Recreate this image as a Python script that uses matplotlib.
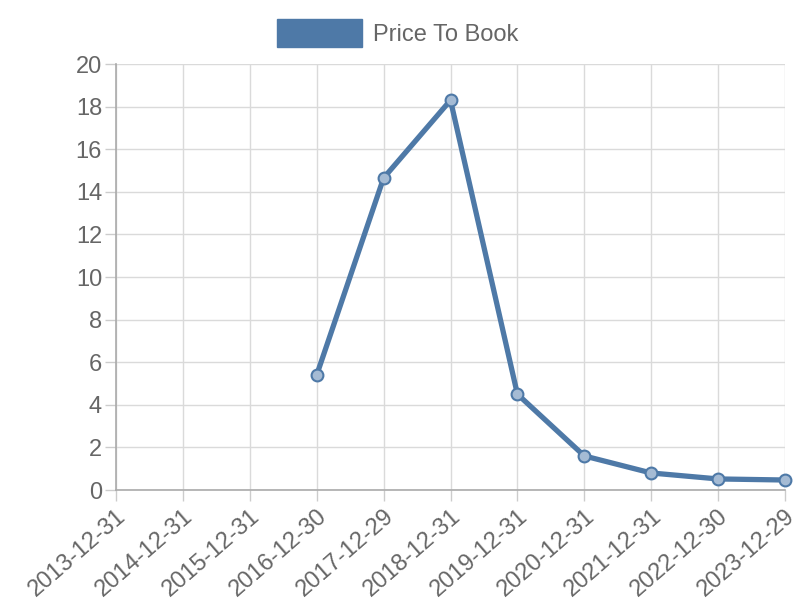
import matplotlib.pyplot as plt
from matplotlib.patches import Patch
import numpy as np

# Chart data
dates = ["2013-12-31", "2014-12-31", "2015-12-31", "2016-12-30", "2017-12-29",
         "2018-12-31", "2019-12-31", "2020-12-31", "2021-12-31", "2022-12-30",
         "2023-12-29"]
price_to_book = [np.nan, np.nan, np.nan, 5.4, 14.65, 18.3, 4.5, 1.6, 0.8, 0.52, 0.47]
y_ticks = list(range(0, 21, 2))

line_color = "#4e79a7"
text_color = "#666666"

plt.rcParams['font.family'] = ['Liberation Sans', 'DejaVu Sans']

fig = plt.figure(figsize=(8, 6), dpi=100)
ax = fig.add_axes([0.145, 0.1833, 0.83625, 0.71])

x = np.arange(len(dates))
ax.plot(x, price_to_book, color=line_color, linewidth=3.8, zorder=3, clip_on=False)
ax.plot(x, price_to_book, linestyle="none", marker="o", markersize=8.5,
        markerfacecolor="#a5bbd4", markeredgecolor=line_color, markeredgewidth=1.5,
        zorder=4, clip_on=False)

ax.set_xlim(0, len(dates) - 1)
ax.set_ylim(0, 20)
ax.set_xticks(x)
ax.set_xticklabels(dates, rotation=41, ha="right", rotation_mode="anchor")
ax.set_yticks(y_ticks)

ax.grid(True, color="#dadada", linewidth=1)
ax.set_axisbelow(True)
for side in ["top", "right"]:
    ax.spines[side].set_visible(False)
for side in ["left", "bottom"]:
    ax.spines[side].set_color("#aaaaaa")
    ax.spines[side].set_linewidth(1.2)
ax.tick_params(axis="both", colors="#cccccc", labelcolor=text_color,
               labelsize=17, length=8, width=1)
ax.tick_params(axis="x", pad=3)
ax.tick_params(axis="y", pad=2)

handle = Patch(facecolor=line_color, edgecolor=line_color)
fig.legend([handle], ["Price To Book"], loc="upper center",
           bbox_to_anchor=(0.497, 1.003), frameon=False, fontsize=17,
           labelcolor=text_color, handlelength=3.6, handleheight=1.45,
           handletextpad=0.45)

fig.savefig("out.png", dpi=100)
